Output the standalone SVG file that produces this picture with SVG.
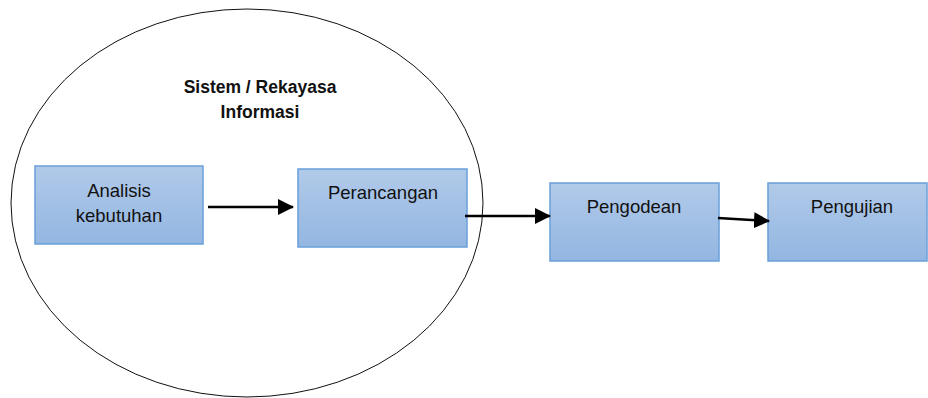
<svg xmlns="http://www.w3.org/2000/svg" width="928" height="398" viewBox="0 0 928 398">
<defs>
<linearGradient id="g" x1="0" y1="0" x2="0" y2="1">
<stop offset="0" stop-color="#b1cae9"/>
<stop offset="1" stop-color="#93b6e1"/>
</linearGradient>
<marker id="ah" markerWidth="16" markerHeight="16" refX="15" refY="8" orient="auto" markerUnits="userSpaceOnUse">
<path d="M0,0 L16,8 L0,16 Z" fill="#000"/>
</marker>
<style>
.box{fill:url(#g);stroke:#6a9fda;stroke-width:1.5}
.t{font-family:"Liberation Sans",Arial,sans-serif;font-size:18.5px;fill:#111;text-anchor:middle}
.b{font-weight:bold;font-size:17.5px}
.c{stroke:#000;stroke-width:2.5;fill:none;marker-end:url(#ah)}
</style>
</defs>
<g id="group-sistem">
<ellipse cx="247" cy="203" rx="236" ry="194" fill="none" stroke="#111" stroke-width="1"/>
<text class="t b" x="260" y="93">Sistem / Rekayasa</text>
<text class="t b" x="260" y="118">Informasi</text>
</g>
<g id="node-analisis">
<rect class="box" x="35" y="166" width="168" height="78"/>
<text class="t" x="119" y="197">Analisis</text>
<text class="t" x="119" y="222">kebutuhan</text>
</g>
<g id="node-perancangan">
<rect class="box" x="298" y="169" width="169" height="78"/>
<text class="t" x="383" y="199">Perancangan</text>
</g>
<g id="node-pengodean">
<rect class="box" x="550" y="183" width="169" height="78"/>
<text class="t" x="634" y="213">Pengodean</text>
</g>
<g id="node-pengujian">
<rect class="box" x="768" y="183" width="159" height="78"/>
<text class="t" x="852" y="213">Pengujian</text>
</g>
<g id="connectors">
<line class="c" x1="208" y1="207" x2="293" y2="207"/>
<line class="c" x1="465" y1="216" x2="550" y2="216"/>
<line class="c" x1="718" y1="218" x2="769" y2="221"/>
</g>
</svg>
